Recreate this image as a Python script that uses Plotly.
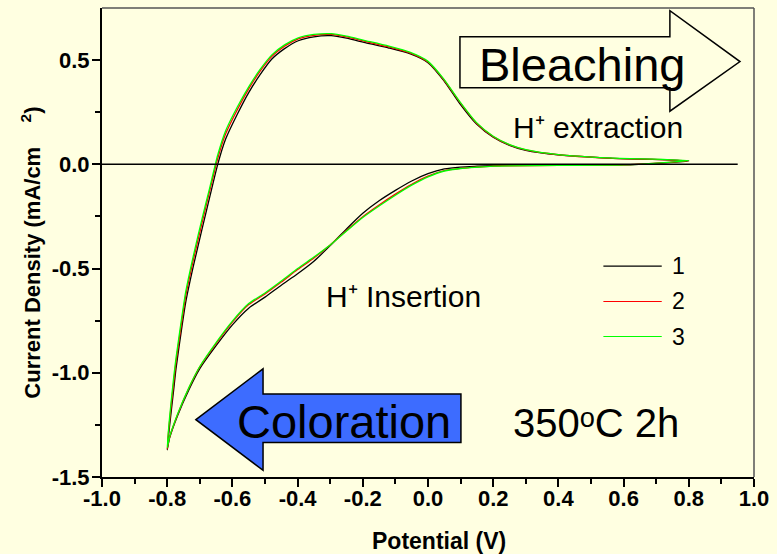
import plotly.graph_objects as go

# ---- cyclic voltammograms: potential (V) vs current density (mA/cm2) ----
# shared potential grid of the anodic (forward) sweep, -0.8 V -> 0.8 V
fwd_x = [-0.800, -0.793, -0.780, -0.773, -0.754, -0.743, -0.720, -0.693, -0.670,
         -0.645, -0.621, -0.585, -0.550, -0.515, -0.479, -0.440, -0.398, -0.350,
         -0.297, -0.250, -0.196, -0.120, -0.054, 0.000, 0.048, 0.098, 0.149,
         0.200, 0.250, 0.300, 0.400, 0.554, 0.800]
# shared potential grid of the cathodic (reverse) sweep, 0.8 V -> -0.8 V
rev_x = [0.800, 0.600, 0.400, 0.250, 0.200, 0.150, 0.100, 0.050, 0.000, -0.050,
         -0.100, -0.150, -0.200, -0.250, -0.300, -0.350, -0.400, -0.450, -0.500,
         -0.550, -0.600, -0.650, -0.700, -0.733, -0.768, -0.793, -0.800]

cycle1_fwd = [-1.37, -1.26, -1.08, -0.98, -0.77, -0.66, -0.49, -0.31, -0.16, 0.00,
              0.12, 0.24, 0.344, 0.43, 0.505, 0.555, 0.593, 0.612, 0.617, 0.605,
              0.585, 0.558, 0.530, 0.488, 0.403, 0.29, 0.193, 0.13, 0.091, 0.067,
              0.045, 0.030, 0.016]
cycle1_rev = [-0.002, -0.003, -0.004, -0.005, -0.006, -0.009, -0.013, -0.022,
              -0.045, -0.080, -0.125, -0.175, -0.235, -0.310, -0.390, -0.465,
              -0.525, -0.580, -0.637, -0.690, -0.770, -0.870, -0.980, -1.080,
              -1.205, -1.315, -1.370]

cycle2_fwd = [-1.365, -1.235, -1.045, -0.95, -0.74, -0.63, -0.46, -0.28, -0.13,
              0.028, 0.145, 0.262, 0.362, 0.447, 0.518, 0.567, 0.602, 0.619, 0.623,
              0.611, 0.591, 0.563, 0.534, 0.491, 0.407, 0.297, 0.197, 0.133, 0.093,
              0.069, 0.046, 0.030, 0.017]
cycle2_rev = [-0.002, -0.003, -0.005, -0.007, -0.009, -0.013, -0.019, -0.030,
              -0.057, -0.096, -0.143, -0.195, -0.251, -0.317, -0.387, -0.449,
              -0.505, -0.565, -0.622, -0.673, -0.757, -0.860, -0.972, -1.072,
              -1.200, -1.312, -1.365]

cycle3_fwd = [-1.36, -1.22, -1.02, -0.93, -0.72, -0.61, -0.44, -0.26, -0.115,
              0.045, 0.16, 0.275, 0.372, 0.455, 0.525, 0.573, 0.607, 0.623, 0.627,
              0.615, 0.595, 0.567, 0.537, 0.494, 0.41, 0.30, 0.20, 0.135, 0.095,
              0.071, 0.047, 0.031, 0.018]
cycle3_rev = [-0.002, -0.003, -0.005, -0.007, -0.009, -0.014, -0.020, -0.032,
              -0.060, -0.100, -0.148, -0.200, -0.255, -0.320, -0.387, -0.445,
              -0.500, -0.560, -0.617, -0.668, -0.752, -0.855, -0.970, -1.070,
              -1.198, -1.310, -1.360]

cycle_names = ["1", "2", "3"]
cycle_colors = ["#000000", "#FF0000", "#00FF00"]

x_ticks = [-1.0, -0.8, -0.6, -0.4, -0.2, 0.0, 0.2, 0.4, 0.6, 0.8, 1.0]
x_ticktext = ["-1.0", "-0.8", "-0.6", "-0.4", "-0.2", "0.0", "0.2", "0.4", "0.6", "0.8", "1.0"]
x_minor = [-0.9, -0.7, -0.5, -0.3, -0.1, 0.1, 0.3, 0.5, 0.7, 0.9]
y_ticks = [-1.5, -1.0, -0.5, 0.0, 0.5]
y_ticktext = ["-1.5", "-1.0", "-0.5", "0.0", "0.5"]
y_minor = [-1.25, -0.75, -0.25, 0.25]

BG = "#FFFFE1"
FONT = "Liberation Sans, Arial, sans-serif"

W, H = 777, 554
ML, MR, MT, MB = 102, 17, 8, 77

fig = go.Figure()

cycles = [(cycle1_fwd, cycle1_rev), (cycle2_fwd, cycle2_rev), (cycle3_fwd, cycle3_rev)]
for (fy, ry), name, color in zip(cycles, cycle_names, cycle_colors):
    fig.add_trace(go.Scatter(
        x=fwd_x + rev_x[1:], y=fy + ry[1:],
        mode="lines", name=name,
        line=dict(color=color, width=1.3, shape="spline", smoothing=0.6),
        showlegend=False,
    ))

# zero-current reference line
zero_line_x = [-1.0, 0.95]
fig.add_shape(type="line", xref="x", yref="y",
              x0=zero_line_x[0], x1=zero_line_x[1], y0=0, y1=0,
              line=dict(color="black", width=1.5))

# frame lines on top and right
fig.add_shape(type="line", xref="paper", yref="paper", x0=0, x1=1, y0=1, y1=1,
              line=dict(color="#555555", width=1.5))
fig.add_shape(type="line", xref="paper", yref="paper", x0=1, x1=1, y0=0, y1=1,
              line=dict(color="#555555", width=1.5))

# "Bleaching" outline arrow pointing right
fig.add_shape(type="path", xref="x", yref="y",
              path="M 0.098,0.612 L 0.742,0.612 L 0.742,0.737 L 0.957,0.493 "
                   "L 0.742,0.255 L 0.742,0.368 L 0.098,0.368 Z",
              line=dict(color="black", width=1.5), fillcolor="rgba(0,0,0,0)")

# "Coloration" filled arrow pointing left
fig.add_shape(type="path", xref="x", yref="y",
              path="M -0.712,-1.225 L -0.506,-0.981 L -0.506,-1.102 L 0.101,-1.102 "
                   "L 0.101,-1.335 L -0.506,-1.335 L -0.506,-1.468 Z",
              line=dict(color="black", width=1.5), fillcolor="#3D6CFF")

# hand-made legend
legend_y = [-0.488, -0.658, -0.826]
for yy, name, color in zip(legend_y, cycle_names, cycle_colors):
    fig.add_shape(type="line", xref="x", yref="y", x0=0.538, x1=0.717, y0=yy, y1=yy,
                  line=dict(color=color, width=1.2))
    fig.add_annotation(x=0.742, y=yy, xref="x", yref="y", text=name, showarrow=False,
                       xanchor="left", yanchor="middle",
                       font=dict(family=FONT, size=23, color="black"))

labels = [
    ("Bleaching", 0.473, 0.48, 47),
    ("Coloration", -0.257, -1.234, 47),
    ("H⁺ extraction", 0.521, 0.176, 30),
    ("H⁺ Insertion", -0.075, -0.636, 30),
    ("350ᵒC 2h", 0.514, -1.24, 40),
]
for txt, xx, yy, sz in labels:
    fig.add_annotation(x=xx, y=yy, xref="x", yref="y", text=txt, showarrow=False,
                       xanchor="center", yanchor="middle",
                       font=dict(family=FONT, size=sz, color="black"))

# axis titles
fig.add_annotation(x=(442 - ML) / (W - ML - MR), y=-(541 - (H - MB)) / (H - MT - MB),
                   xref="paper", yref="paper", text="<b>Potential (V)</b>",
                   showarrow=False, xanchor="center", yanchor="middle",
                   font=dict(family=FONT, size=23, color="black"))
fig.add_annotation(x=-(ML - 30) / (W - ML - MR), y=((H - MB) - 253) / (H - MT - MB),
                   xref="paper", yref="paper",
                   text="<b>Current Density (mA/cm&nbsp;&nbsp;&nbsp;&nbsp;<sup>2</sup>)</b>",
                   textangle=-90, showarrow=False, xanchor="center", yanchor="middle",
                   font=dict(family=FONT, size=22, color="black"))

axis_common = dict(
    showline=True, linecolor="black", linewidth=2, mirror=False,
    showgrid=False, zeroline=False, ticks="outside", ticklen=8, tickwidth=2,
    tickcolor="black",
    tickfont=dict(family=FONT, size=22, color="black", weight="bold"),
)
fig.update_xaxes(range=[-1.0, 1.0], tickmode="array", tickvals=x_ticks,
                 ticktext=x_ticktext, ticklabelstandoff=-7,
                 minor=dict(tickmode="array", tickvals=x_minor, ticks="outside",
                            ticklen=5, tickwidth=1.5, tickcolor="black"),
                 **axis_common)
fig.update_yaxes(range=[-1.5, 0.75], tickmode="array", tickvals=y_ticks,
                 ticktext=y_ticktext, ticklabelstandoff=-2,
                 minor=dict(tickmode="array", tickvals=y_minor, ticks="outside",
                            ticklen=5, tickwidth=1.5, tickcolor="black"),
                 **axis_common)

fig.update_layout(
    width=W, height=H,
    margin=dict(l=ML, r=MR, t=MT, b=MB),
    paper_bgcolor=BG, plot_bgcolor=BG,
    showlegend=False,
)

fig.write_html("out.html")
